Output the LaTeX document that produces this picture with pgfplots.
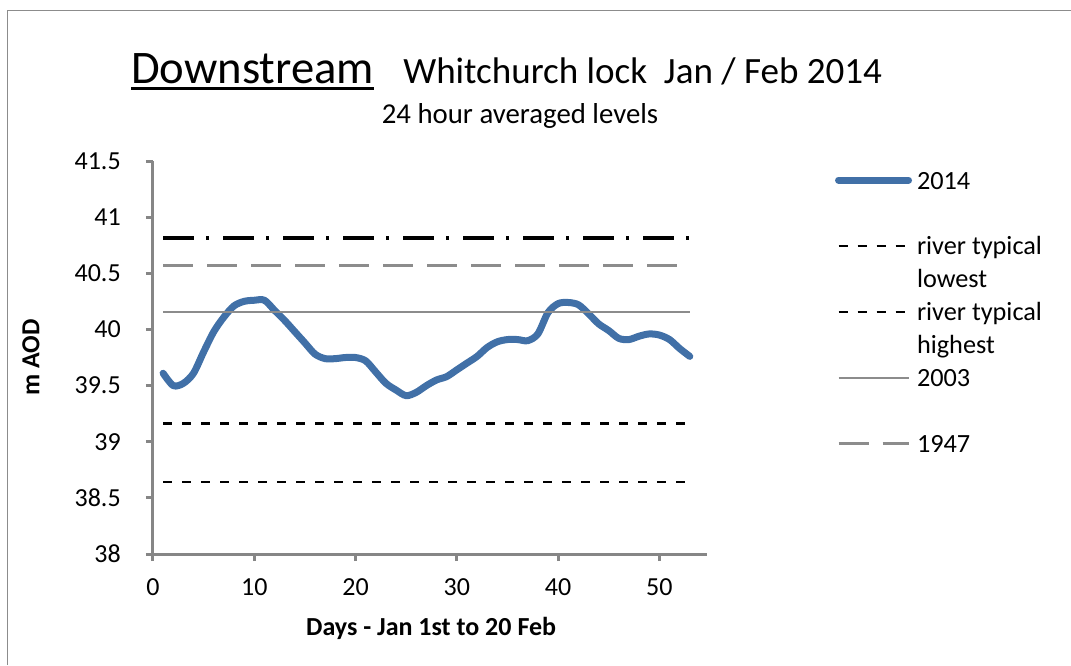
\documentclass[border=0pt]{standalone}
\usepackage{fontspec}
\setmainfont{Carlito}
\usepackage{pgfplots}
\pgfplotsset{compat=1.18}
\definecolor{blueline}{RGB}{65,112,167}
\definecolor{axgray}{RGB}{134,134,134}
\definecolor{lgray}{RGB}{140,140,140}
\begin{document}
\begin{tikzpicture}
\useasboundingbox (0,0) rectangle (803.25pt,-498.75pt);
\begin{scope}[x=0.75pt,y=-0.75pt]
\draw[lgray, line width=1pt] (7.5,665) -- (7.5,10.7) -- (1071,10.7);
\node[anchor=base west, inner sep=0pt, font=\fontsize{35pt}{42pt}\selectfont] (d) at (131,83) {Downstream};
\draw[black, line width=1.8pt] ([yshift=-4pt]d.base west) -- ([yshift=-4pt]d.base east);
\node[anchor=base west, inner sep=0pt, font=\fontsize{27.8pt}{33pt}\selectfont] at (403,83) {Whitchurch lock\ \ Jan / Feb 2014};
\node[anchor=base, inner sep=0pt, font=\fontsize{21.6pt}{26pt}\selectfont] at (520,123) {24 hour averaged levels};
\end{scope}
\begin{axis}[
  at={(114.75pt,-415.5pt)}, anchor=south west,
  width=415.5pt, height=294.75pt, scale only axis,
  xmin=0, xmax=54.7, ymin=38, ymax=41.5,
  axis x line*=bottom, axis y line*=left,
  axis line style={axgray, line width=2.25pt},
  xtick={0,10,20,30,40,50},
  ytick={38,38.5,39,39.5,40,40.5,41,41.5},
  yticklabels={38,38.5,39,39.5,40,40.5,41,41.5},
  tick style={axgray, line width=2.25pt},
  tick align=outside, major tick length=5.25pt,
  /pgf/number format/assume math mode=true,
  ticklabel style={font=\fontsize{19.5pt}{23pt}\selectfont, inner sep=0pt},
  xticklabel style={anchor=base, yshift=-26pt},
  yticklabel style={anchor=east, xshift=-18.75pt},
  xlabel={\textbf{Days - Jan 1st to 20 Feb}},
  ylabel={\textbf{m AOD}},
  label style={font=\fontsize{19.5pt}{23pt}\selectfont, inner sep=0pt},
  xlabel style={at={(axis description cs:0.502,-0.2061)}, anchor=base},
  ylabel style={at={(axis description cs:-0.2202,0.5)}, anchor=center},
  legend style={at={(axis description cs:1.2311,0.9760)}, anchor=north west,
    draw=none, fill=none, inner sep=0pt, outer sep=0pt,
    row sep=6.7pt, column sep=3.75pt,
    nodes={inner sep=0pt, anchor=base west, text height=14pt, text depth=4pt,
      font=\fontsize{19.7pt}{24pt}\selectfont}},
  legend cell align=left,
  legend image code/.code={\draw[#1, yshift=6.75pt] (0pt,0pt) -- (52.5pt,0pt);},
]
\addplot[blueline, line width=5.25pt, smooth, line cap=round, line join=round] coordinates {
(1,39.61) (2,39.50) (3,39.52) (4,39.61) (5,39.80) (6,39.98) (7,40.11) (8,40.21)
(9,40.25) (10,40.26) (11,40.26) (12,40.17) (13,40.08) (14,39.98) (15,39.88)
(16,39.78) (17,39.74) (18,39.74) (19,39.75) (20,39.75) (21,39.72) (22,39.62)
(23,39.52) (24,39.46) (25,39.41) (26,39.44) (27,39.50) (28,39.55) (29,39.58)
(30,39.64) (31,39.70) (32,39.76) (33,39.84) (34,39.89) (35,39.91) (36,39.91)
(37,39.90) (38,39.96) (39,40.15) (40,40.23) (41,40.24) (42,40.22) (43,40.14)
(44,40.05) (45,39.99) (46,39.92) (47,39.91) (48,39.94) (49,39.96) (50,39.95)
(51,39.91) (52,39.83) (53,39.76)};
\addlegendentry{2014}
\addlegendimage{empty legend}
\addlegendentry{}
\addplot[black, line width=1.9pt, dash pattern=on 6.75pt off 7.5pt] coordinates {(1,38.64) (53,38.64)};
\addlegendentry{river typical}
\addlegendimage{empty legend}
\addlegendentry{lowest}
\addplot[black, line width=1.9pt, dash pattern=on 6.75pt off 7.5pt] coordinates {(1,39.16) (53,39.16)};
\addlegendentry{river typical}
\addlegendimage{empty legend}
\addlegendentry{highest}
\addplot[lgray, line width=1.7pt] coordinates {(1,40.155) (53,40.155)};
\addlegendentry{2003}
\addlegendimage{empty legend}
\addlegendentry{}
\addplot[lgray, line width=2.25pt, dash pattern=on 22.5pt off 10.5pt] coordinates {(1,40.566) (53,40.566)};
\addlegendentry{1947}
\addplot[black, line width=2.5pt, dash pattern=on 23.25pt off 9pt on 2.25pt off 10.5pt, forget plot] coordinates {(1,40.815) (53,40.815)};
\end{axis}
\end{tikzpicture}
\end{document}
